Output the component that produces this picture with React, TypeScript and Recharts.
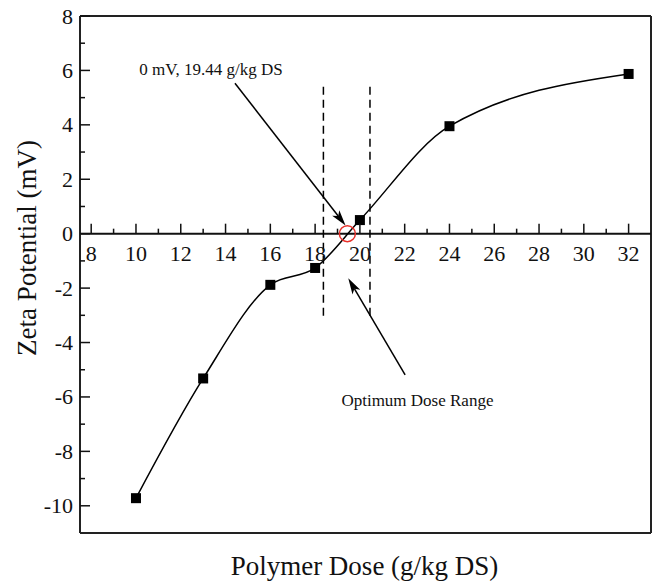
import React from 'react';
import {
  LineChart,
  Line,
  XAxis,
  YAxis,
  ReferenceLine,
  ReferenceDot,
  Label
} from 'recharts';

// measured points
const doses = [10, 13, 16, 18, 20, 24, 32];
const zeta = [-9.72, -5.32, -1.88, -1.26, 0.5, 3.95, 5.87];

const xTicks = [8, 9, 10, 11, 12, 13, 14, 15, 16, 17, 18, 19, 20, 21, 22, 23, 24, 25, 26, 27, 28, 29, 30, 31, 32];
const yTicks = [-10, -9, -8, -7, -6, -5, -4, -3, -2, -1, 0, 1, 2, 3, 4, 5, 6, 7, 8];

const zeroPoint = { dose: 19.44, zeta: 0 };
const doseRange = [18.37, 20.45];
const rangeTop = 5.4;
const rangeBottom = -3.08;

const X_MIN = 7.5;
const X_MAX = 33;
const Y_MIN = -11;
const Y_MAX = 8;

const W = 652;
const H = 586;
const LEFT = 80;
const TOP = 16;
const BOTTOM_H = 53;
const PLOT_H = H - TOP - BOTTOM_H;
const Y_ZERO = TOP + ((Y_MAX - 0) / (Y_MAX - Y_MIN)) * PLOT_H;

const FONT = '"Liberation Serif", "Times New Roman", serif';
const INK = '#111';

const data = doses.map((d, i) => ({ dose: d, zeta: zeta[i] }));

const XTick = (props: any) => {
  const { x, payload } = props;
  const v = payload.value;
  const major = v % 2 === 0;
  return (
    <g>
      <line x1={x} x2={x} y1={Y_ZERO} y2={Y_ZERO - (major ? 10 : 5)} stroke={INK} strokeWidth={1.5} />
      {major && (
        <text x={x} y={Y_ZERO + 20} textAnchor="middle" dominantBaseline="central" fontSize={22} fontFamily={FONT} fill={INK}>
          {v}
        </text>
      )}
    </g>
  );
};

const YTick = (props: any) => {
  const { y, payload } = props;
  const v = payload.value;
  const major = v % 2 === 0;
  return (
    <g>
      <line x1={LEFT} x2={LEFT + (major ? 10 : 5)} y1={y} y2={y} stroke={INK} strokeWidth={1.5} />
      {major && (
        <text x={LEFT - 7} y={y} textAnchor="end" dominantBaseline="central" fontSize={22} fontFamily={FONT} fill={INK}>
          {v}
        </text>
      )}
    </g>
  );
};

const SquareDot = (props: any) => {
  const { cx, cy } = props;
  if (cx == null || cy == null) return null;
  return <rect x={cx - 5} y={cy - 5} width={10} height={10} fill="#000" />;
};

const arrowShape = (props: any) => {
  const { x1, y1, x2, y2 } = props;
  const ang = Math.atan2(y2 - y1, x2 - x1);
  const len = 16;
  const half = 4.5;
  const bx = x2 - len * Math.cos(ang);
  const by = y2 - len * Math.sin(ang);
  const nx = x2 - (len - 4) * Math.cos(ang);
  const ny = y2 - (len - 4) * Math.sin(ang);
  const lx = bx + half * Math.sin(ang);
  const ly = by - half * Math.cos(ang);
  const rx = bx - half * Math.sin(ang);
  const ry = by + half * Math.cos(ang);
  return (
    <g>
      <line x1={x1} y1={y1} x2={nx} y2={ny} stroke="#000" strokeWidth={1.5} />
      <polygon points={`${x2},${y2} ${lx},${ly} ${nx},${ny} ${rx},${ry}`} fill="#000" />
    </g>
  );
};

export default function App() {
  return (
    <div style={{ position: 'absolute', left: 0, top: 0, width: W, height: H, background: '#fff' }}>
      <LineChart width={W} height={H} data={data} margin={{ top: TOP, right: 1, left: 0, bottom: 0 }}>
        <XAxis
          dataKey="dose"
          type="number"
          domain={[X_MIN, X_MAX]}
          ticks={xTicks}
          interval={0}
          allowDataOverflow
          axisLine={false}
          tickLine={false}
          tick={<XTick />}
          height={BOTTOM_H}
        >
          <Label
            content={(p: any) => {
              const vb = p.viewBox;
              const cx = vb.x + vb.width / 2 - 1;
              return (
                <text x={cx} y={566} textAnchor="middle" dominantBaseline="central" fontSize={27} fontFamily={FONT} fill={INK}>
                  Polymer Dose (g/kg DS)
                </text>
              );
            }}
          />
        </XAxis>
        <YAxis
          type="number"
          domain={[Y_MIN, Y_MAX]}
          ticks={yTicks}
          interval={0}
          allowDataOverflow
          width={LEFT}
          axisLine={{ stroke: '#222', strokeWidth: 2 }}
          tickLine={false}
          tick={<YTick />}
        >
          <Label
            content={(p: any) => {
              const vb = p.viewBox;
              const cx = vb.x + 27;
              const cy = 248;
              return (
                <text
                  x={cx}
                  y={cy}
                  transform={`rotate(-90 ${cx} ${cy})`}
                  textAnchor="middle"
                  dominantBaseline="central"
                  fontSize={27}
                  fontFamily={FONT}
                  fill={INK}
                >
                  Zeta Potential (mV)
                </text>
              );
            }}
          />
        </YAxis>

        {/* frame */}
        <ReferenceLine y={Y_MAX} stroke="#222" strokeWidth={2} />
        <ReferenceLine y={Y_MIN} stroke="#222" strokeWidth={2} />
        <ReferenceLine x={X_MAX} stroke="#222" strokeWidth={2} />
        <ReferenceLine y={0} stroke="#111" strokeWidth={2} />

        {/* optimum dose range */}
        {doseRange.map((d) => (
          <ReferenceLine
            key={d}
            segment={[{ x: d, y: rangeTop }, { x: d, y: rangeBottom }]}
            stroke="#000"
            strokeWidth={1.5}
            strokeDasharray="8 5"
          />
        ))}

        <Line
          type="monotone"
          dataKey="zeta"
          stroke="#000"
          strokeWidth={1.5}
          dot={<SquareDot />}
          activeDot={false}
          isAnimationActive={false}
        />

        <ReferenceDot x={zeroPoint.dose} y={zeroPoint.zeta} r={8} fill="none" stroke="#e8302a" strokeWidth={1.5} />

        {/* annotations */}
        <ReferenceLine segment={[{ x: 14.42, y: 5.53 }, { x: 19.36, y: 0.3 }]} shape={arrowShape} />
        <ReferenceLine segment={[{ x: 22.02, y: -5.19 }, { x: 19.48, y: -1.64 }]} shape={arrowShape} />
        <ReferenceDot x={13.35} y={6.05} r={0} fill="none" stroke="none">
          <Label value="0 mV, 19.44 g/kg DS" position="center" fontSize={17} fontFamily={FONT} fill={INK} />
        </ReferenceDot>
        <ReferenceDot x={22.57} y={-6.11} r={0} fill="none" stroke="none">
          <Label value="Optimum Dose Range" position="center" fontSize={17} fontFamily={FONT} fill={INK} />
        </ReferenceDot>
      </LineChart>
    </div>
  );
}
